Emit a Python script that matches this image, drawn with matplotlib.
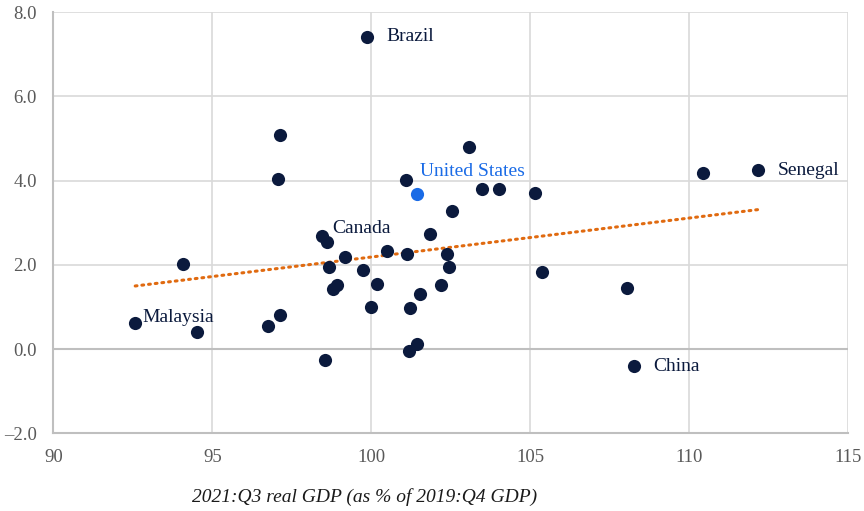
import numpy as np
import matplotlib.pyplot as plt

plt.rcParams['font.family'] = ['Liberation Serif', 'DejaVu Serif']

# 2021:Q3 real GDP (% of 2019:Q4) vs. second series, one point per economy
gdp = [99.86, 97.11, 97.06, 103.06, 101.08, 103.47, 104.01, 105.13, 102.54, 101.84,
       98.45, 98.60, 110.43, 112.16, 108.05, 108.26, 99.18, 100.48, 101.13, 102.37,
       102.43, 98.68, 99.73, 105.35, 98.92, 98.80, 100.19, 102.18, 101.52, 99.98,
       101.22, 97.12, 96.76, 101.43, 101.19, 98.54, 94.08, 92.57, 94.52]
val = [7.42, 5.08, 4.03, 4.81, 4.01, 3.80, 3.80, 3.70, 3.28, 2.74,
       2.69, 2.55, 4.18, 4.25, 1.46, -0.41, 2.18, 2.32, 2.25, 2.26,
       1.96, 1.95, 1.89, 1.83, 1.53, 1.42, 1.55, 1.53, 1.32, 1.01,
       0.98, 0.81, 0.55, 0.12, -0.04, -0.25, 2.02, 0.62, 0.40]
us_gdp, us_val = 101.43, 3.68

# labelled economies: name, x, y, text offset in points
labels = [('Brazil', 99.86, 7.42, (14, 0)),
          ('Senegal', 112.16, 4.25, (14, 0)),
          ('China', 108.26, -0.41, (14, 0)),
          ('Malaysia', 92.57, 0.62, (5, 4)),
          ('Canada', 98.45, 2.69, (7, 5))]

xticks = [90, 95, 100, 105, 110, 115]
yticks = [-2, 0, 2, 4, 6, 8]
ytick_labels = ['\u20132.0', '0.0', '2.0', '4.0', '6.0', '8.0']

navy = '#0b1a3d'
blue = '#1a6be6'
grey_txt = '#595959'

fig = plt.figure(figsize=(8.64, 5.11), dpi=100)
ax = fig.add_axes([0.0619, 0.152, 0.920, 0.824])

ax.scatter(gdp, val, s=90, color=navy, zorder=3, linewidths=0)
ax.scatter([us_gdp], [us_val], s=90, color=blue, zorder=3, linewidths=0)

# linear trend over all points
all_x = np.array(gdp + [us_gdp])
all_y = np.array(val + [us_val])
k, b = np.polyfit(all_x, all_y, 1)
tx = np.array([all_x.min(), all_x.max()])
ax.plot(tx, k * tx + b, color='#e06a10', lw=2.2, ls=(0, (0.6, 1.6)),
        dash_capstyle='round', zorder=2)

for name, x, y, off in labels:
    ax.annotate(name, (x, y), xytext=off, textcoords='offset points',
                ha='left', va='center', fontsize=14, color=navy)
ax.annotate('United States', (us_gdp, us_val), xytext=(2, 16),
            textcoords='offset points', ha='left', va='center',
            fontsize=14, color=blue)

ax.set_xlim(90, 115)
ax.set_ylim(-2, 8)
ax.set_xticks(xticks)
ax.set_yticks(yticks)
ax.set_yticklabels(ytick_labels)
ax.grid(True, color='#d9d9d9', lw=1.2, zorder=0)
ax.axhline(0, color='#bfbfbf', lw=1.5, zorder=1)
ax.set_axisbelow(True)
for side in ['top', 'right']:
    ax.spines[side].set_visible(False)
for side in ['left', 'bottom']:
    ax.spines[side].set_color('#bfbfbf')
    ax.spines[side].set_linewidth(1.5)
ax.tick_params(axis='both', length=0, labelsize=13.5, labelcolor=grey_txt)
ax.tick_params(axis='y', pad=12)
ax.tick_params(axis='x', pad=11)

ax.set_xlabel('2021:Q3 real GDP (as % of 2019:Q4 GDP)', fontsize=14,
              style='italic', color='#1a1a1a')
ax.xaxis.set_label_coords(0.391, -0.13)

fig.savefig('out.png', dpi=100)
